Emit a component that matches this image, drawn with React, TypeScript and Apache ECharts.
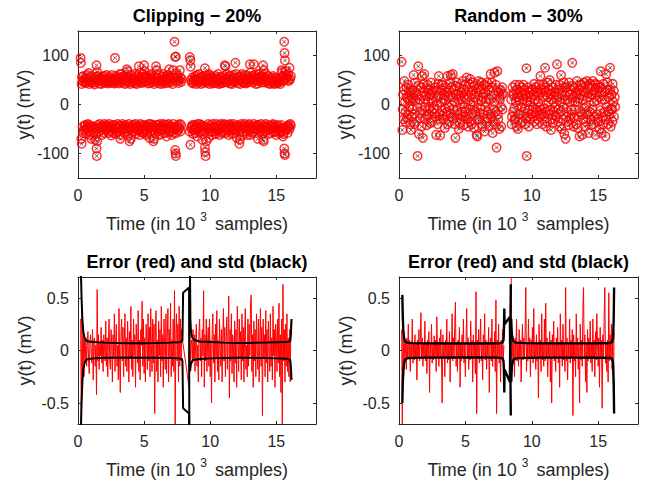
import React, { useEffect, useRef } from "react";
import * as echarts from "echarts";

const FONT = "'Liberation Sans', Arial, Helvetica, sans-serif";
const AXIS_COLOR = "#262626";

const titles = ["Clipping − 20%", "Random − 30%", "Error (red) and std (black)", "Error (red) and std (black)"];
const xTicks = [0, 5, 10, 15];
const yTicksSignal = [-100, 0, 100];
const yTicksError = [-0.5, 0, 0.5];

// Clipping 20% : missing samples (y in mV) [time in 10^3 samples, value]
const clipPos: number[][] = [
  [0.2,95],[0.22,85],[0.3,56],[0.35,48],[0.45,45],[0.5,52],[0.6,44],[0.7,60],[0.75,50],[0.8,64],[0.85,42],[0.95,55],[1.0,47],[1.1,44],[1.2,52],[1.3,45],[1.4,80],[1.45,66],[1.5,58],[1.55,48],[1.6,43],[1.7,55],[1.8,50],[1.9,45],[2.0,58],[2.1,47],[2.2,52],[2.3,43],[2.4,56],[2.5,48],[2.6,44],[2.7,50],[2.8,95],[2.85,58],[2.9,45],[3.0,52],[3.1,43],[3.2,55],[3.3,62],[3.4,47],[3.5,44],[3.6,57],[3.7,72],[3.75,68],[3.8,50],[3.9,45],[4.0,60],[4.1,48],[4.2,53],[4.3,43],[4.4,58],[4.5,46],[4.6,78],[4.65,64],[4.7,52],[4.8,44],[4.9,62],[5.0,80],[5.05,68],[5.1,47],[5.2,55],[5.3,43],[5.4,60],[5.5,50],[5.6,45],[5.7,58],[5.8,48],[5.9,78],[5.95,70],[6.0,55],[6.1,44],[6.2,50],[6.3,46],[6.4,57],[6.5,43],[6.6,52],[6.7,48],[6.8,60],[6.9,72],[7.0,45],[7.1,55],[7.2,70],[7.3,128],[7.35,97],[7.4,98],[7.45,62],[7.5,48],[7.6,44],[7.7,70],[7.75,55],[7.8,46],
  [0.27,42],[0.4,58],[0.55,47],[0.65,53],[0.9,46],[1.05,58],[1.15,50],[1.25,41],[1.35,56],[1.65,50],[1.75,42],[1.85,57],[1.95,52],[2.05,44],[2.15,60],[2.25,48],[2.35,45],[2.45,53],[2.55,60],[2.65,47],[2.75,43],[2.95,55],[3.05,48],[3.15,62],[3.25,45],[3.35,52],[3.45,58],[3.55,42],[3.65,48],[3.85,55],[3.95,42],[4.05,52],[4.15,45],[4.25,62],[4.35,50],[4.45,42],[4.55,55],[4.75,47],[4.85,56],[4.95,45],[5.15,58],[5.25,48],[5.35,52],[5.45,44],[5.55,62],[5.65,52],[5.75,42],[5.85,55],[6.05,48],[6.15,60],[6.25,42],[6.35,50],[6.45,62],[6.55,47],[6.65,58],[6.75,44],[6.85,52],[6.95,58],[7.05,48],[7.15,42],[7.25,55],[7.55,58],[7.65,50],[7.85,52],
  [8.45,97],[8.5,90],[8.52,77],[8.6,45],[8.7,43],[8.8,52],[8.9,48],[9.0,60],[9.1,45],[9.2,55],[9.3,42],[9.4,50],[9.5,58],[9.6,74],[9.65,46],[9.7,52],[9.8,44],[9.9,62],[10.0,48],[10.1,55],[10.2,43],[10.3,50],[10.4,58],[10.5,45],[10.6,62],[10.7,48],[10.8,43],[10.9,55],[11.0,47],[11.1,80],[11.15,78],[11.2,52],[11.3,45],[11.4,58],[11.5,43],[11.6,50],[11.7,46],[11.8,55],[11.9,85],[11.95,62],[12.0,48],[12.1,44],[12.2,56],[12.3,50],[12.4,62],[12.5,45],[12.6,52],[12.7,43],[12.8,58],[12.9,48],[13.0,82],[13.05,65],[13.1,52],[13.2,45],[13.3,82],[13.35,60],[13.4,48],[13.5,55],[13.6,43],[13.7,62],[13.8,50],[13.9,45],[14.0,80],[14.05,70],[14.1,56],[14.2,62],[14.3,47],[14.4,43],[14.5,53],[14.6,48],[14.7,44],[14.8,50],[14.9,45],[15.0,52],[15.1,43],[15.2,48],[15.3,42],[15.4,70],[15.45,66],[15.5,58],[15.55,48],[15.6,128],[15.62,105],[15.65,90],[15.7,68],[15.75,55],[15.8,60],[15.85,50],[15.9,62],[16.0,75],[16.05,52],
  [8.55,50],[8.65,55],[8.75,47],[8.85,58],[8.95,42],[9.05,52],[9.15,62],[9.25,48],[9.35,55],[9.45,44],[9.55,48],[9.75,60],[9.85,50],[9.95,42],[10.05,58],[10.15,46],[10.25,55],[10.35,44],[10.45,52],[10.55,48],[10.65,42],[10.75,56],[10.85,50],[10.95,44],[11.05,58],[11.25,62],[11.35,48],[11.45,52],[11.55,58],[11.65,42],[11.75,60],[11.85,47],[12.05,55],[12.15,50],[12.25,42],[12.35,58],[12.45,48],[12.55,44],[12.65,60],[12.75,50],[12.85,45],[12.95,55],[13.15,58],[13.25,52],[13.45,42],[13.55,62],[13.65,48],[13.75,55],[13.85,58],[13.95,50],[14.15,45],[14.25,52],[14.35,58],[14.45,48],[14.55,42],[14.65,55],[14.75,58],[14.85,42],[14.95,55],[15.05,46],[15.15,52],[15.25,46],[15.35,55],[15.65,52],[15.95,48],[16.1,58]
];
const clipNeg: number[][] = [
  [0.25,-70],[0.28,-80],[0.35,-45],[0.45,-52],[0.55,-42],[0.6,-60],[0.7,-48],[0.75,-40],[0.85,-55],[0.95,-44],[1.0,-70],[1.1,-50],[1.2,-45],[1.3,-72],[1.4,-90],[1.42,-105],[1.45,-75],[1.5,-42],[1.6,-55],[1.7,-45],[1.8,-62],[1.9,-48],[2.0,-40],[2.1,-52],[2.2,-44],[2.3,-58],[2.4,-46],[2.5,-63],[2.6,-42],[2.7,-50],[2.8,-45],[2.9,-56],[3.0,-40],[3.1,-48],[3.2,-70],[3.3,-52],[3.4,-44],[3.5,-58],[3.6,-42],[3.7,-50],[3.8,-45],[3.9,-75],[4.0,-70],[4.1,-55],[4.2,-42],[4.3,-48],[4.4,-60],[4.5,-44],[4.6,-52],[4.7,-40],[4.8,-56],[4.9,-45],[5.0,-50],[5.1,-42],[5.2,-58],[5.3,-48],[5.4,-68],[5.5,-40],[5.6,-52],[5.7,-75],[5.75,-70],[5.8,-46],[5.9,-42],[6.0,-55],[6.1,-48],[6.2,-40],[6.3,-60],[6.4,-45],[6.5,-52],[6.6,-42],[6.7,-65],[6.8,-48],[6.9,-56],[7.0,-44],[7.1,-62],[7.2,-40],[7.3,-50],[7.35,-93],[7.38,-100],[7.4,-105],[7.45,-58],[7.5,-45],[7.6,-52],[7.7,-40],[7.8,-42],
  [0.4,-58],[0.5,-44],[0.65,-50],[0.8,-42],[0.9,-62],[1.05,-45],[1.15,-58],[1.25,-48],[1.35,-60],[1.55,-48],[1.65,-40],[1.75,-52],[1.85,-44],[1.95,-58],[2.05,-46],[2.15,-42],[2.25,-50],[2.35,-40],[2.45,-54],[2.55,-47],[2.65,-58],[2.75,-42],[2.85,-60],[2.95,-48],[3.05,-55],[3.15,-43],[3.25,-62],[3.35,-40],[3.45,-50],[3.55,-46],[3.65,-55],[3.75,-62],[3.85,-40],[3.95,-50],[4.05,-46],[4.15,-42],[4.25,-55],[4.35,-40],[4.45,-52],[4.55,-46],[4.65,-62],[4.75,-48],[4.85,-42],[4.95,-58],[5.05,-44],[5.15,-62],[5.25,-45],[5.35,-40],[5.45,-55],[5.55,-46],[5.65,-42],[5.85,-58],[5.95,-50],[6.05,-42],[6.15,-62],[6.25,-52],[6.35,-44],[6.45,-40],[6.55,-58],[6.65,-48],[6.75,-42],[6.85,-40],[6.95,-50],[7.05,-55],[7.15,-46],[7.25,-58],[7.55,-42],[7.65,-48],[7.75,-55],
  [8.45,-55],[8.5,-82],[8.6,-45],[8.7,-60],[8.8,-42],[8.9,-52],[9.0,-65],[9.1,-48],[9.2,-40],[9.3,-56],[9.4,-72],[9.5,-45],[9.6,-88],[9.62,-97],[9.65,-105],[9.7,-75],[9.8,-50],[9.9,-68],[10.0,-42],[10.1,-55],[10.2,-40],[10.3,-48],[10.4,-60],[10.5,-44],[10.6,-52],[10.7,-62],[10.8,-40],[10.9,-48],[11.0,-56],[11.1,-42],[11.2,-50],[11.3,-45],[11.4,-62],[11.5,-40],[11.6,-52],[11.7,-44],[11.8,-58],[11.9,-48],[12.0,-68],[12.1,-42],[12.2,-80],[12.25,-72],[12.3,-50],[12.4,-44],[12.5,-56],[12.6,-40],[12.7,-48],[12.8,-62],[12.9,-42],[13.0,-52],[13.1,-45],[13.2,-58],[13.3,-40],[13.4,-50],[13.5,-44],[13.6,-70],[13.7,-42],[13.8,-55],[13.9,-48],[14.0,-72],[14.05,-75],[14.1,-45],[14.2,-40],[14.3,-52],[14.4,-60],[14.5,-44],[14.6,-50],[14.7,-42],[14.8,-56],[14.9,-46],[15.0,-62],[15.1,-50],[15.2,-44],[15.3,-55],[15.4,-48],[15.5,-65],[15.55,-60],[15.6,-90],[15.62,-100],[15.65,-103],[15.7,-52],[15.8,-45],[15.9,-42],[16.0,-50],[16.1,-43],
  [8.55,-48],[8.65,-42],[8.75,-52],[8.85,-58],[8.95,-44],[9.05,-40],[9.15,-55],[9.25,-46],[9.35,-42],[9.45,-60],[9.55,-52],[9.75,-46],[9.85,-40],[9.95,-55],[10.05,-48],[10.15,-62],[10.25,-45],[10.35,-55],[10.45,-40],[10.55,-48],[10.65,-42],[10.75,-50],[10.85,-58],[10.95,-44],[11.05,-40],[11.15,-58],[11.25,-44],[11.35,-52],[11.45,-42],[11.55,-46],[11.65,-60],[11.75,-40],[11.85,-52],[11.95,-44],[12.05,-55],[12.15,-46],[12.35,-40],[12.45,-62],[12.55,-48],[12.65,-44],[12.75,-55],[12.85,-46],[12.95,-40],[13.05,-62],[13.15,-48],[13.25,-55],[13.35,-45],[13.45,-58],[13.55,-42],[13.65,-52],[13.75,-48],[13.85,-40],[13.95,-60],[14.15,-55],[14.25,-46],[14.35,-42],[14.45,-50],[14.55,-58],[14.65,-44],[14.75,-40],[14.85,-48],[14.95,-55],[15.05,-42],[15.15,-58],[15.25,-48],[15.35,-42],[15.45,-55],[15.75,-50],[15.85,-58],[15.95,-46],[16.05,-40]
];

// Random 30% : missing samples
const randPts: number[][] = [
  [0.2,87],[0.25,-52],[0.3,20],[0.35,-30],[0.4,48],[0.45,5],[0.5,-15],[0.55,35],[0.6,-28],[0.65,12],[0.7,40],[0.75,-5],[0.8,25],[0.85,-40],[0.9,-52],[0.95,15],[1.0,-10],[1.05,30],[1.1,60],[1.15,-20],[1.2,45],[1.25,8],[1.3,-35],[1.35,20],[1.4,-105],[1.45,78],[1.5,-60],[1.55,10],[1.6,-15],[1.65,35],[1.7,-45],[1.75,58],[1.8,-68],[1.85,25],[1.9,62],[1.95,-5],[2.0,-30],[2.05,18],[2.1,-42],[2.15,40],[2.2,5],[2.25,-20],[2.3,30],[2.35,-38],[2.4,45],[2.45,12],[2.5,-15],[2.55,25],[2.6,-8],[2.7,35],[2.75,-25],[2.8,-62],[2.85,15],[2.9,-40],[2.95,42],[3.0,58],[3.05,-20],[3.1,-63],[3.15,5],[3.2,30],[3.25,-12],[3.3,40],[3.35,-30],[3.4,20],[3.45,-48],[3.5,8],[3.55,35],[3.6,-15],[3.65,58],[3.7,25],[3.75,-5],[3.8,-35],[3.85,45],[3.9,60],[3.95,-25],[4.0,15],[4.05,62],[4.1,-10],[4.15,30],[4.2,-40],[4.25,-68],[4.3,20],[4.35,45],[4.4,-20],[4.45,10],[4.5,-50],[4.55,35],[4.6,0],[4.65,-30],[4.7,25],[4.75,-15],[4.8,48],[4.85,-42],[4.9,15],[4.95,-5],[5.0,40],[5.05,-25],[5.1,55],[5.15,10],[5.2,-45],[5.25,30],[5.3,-10],[5.35,52],[5.4,-35],[5.45,20],[5.5,-20],[5.55,45],[5.6,5],[5.65,-48],[5.7,38],[5.75,-15],[5.8,25],[5.85,-62],[5.9,-65],[5.95,10],[6.0,48],[6.05,-30],[6.1,30],[6.15,-10],[6.2,45],[6.25,-40],[6.3,15],[6.35,-20],[6.4,40],[6.45,-55],[6.5,25],[6.55,5],[6.6,-35],[6.65,45],[6.7,-15],[6.75,30],[6.8,-45],[6.85,10],[6.9,62],[6.95,-25],[7.0,35],[7.05,-58],[7.1,20],[7.15,-10],[7.2,65],[7.25,-40],[7.3,40],[7.35,-88],[7.4,68],[7.45,-20],[7.5,25],[7.55,-50],[7.6,10],[7.65,30],[7.7,-45],[7.75,20],[7.8,-10],[7.85,22],
  [0.28,-10],[0.38,30],[0.48,-35],[0.58,15],[0.68,-20],[0.78,8],[0.88,28],[0.98,-25],[1.08,12],[1.18,-40],[1.28,25],[1.38,-5],[1.48,38],[1.58,-28],[1.68,18],[1.78,-12],[1.88,42],[1.98,10],[2.08,-22],[2.18,32],[2.28,-8],[2.38,20],[2.48,-35],[2.58,5],[2.68,-18],[2.78,28],[2.88,-2],[2.98,18],[3.08,-30],[3.18,40],[3.28,-22],[3.38,12],[3.48,-8],[3.58,25],[3.68,-40],[3.78,15],[3.88,-18],[3.98,35],[4.08,-28],[4.18,5],[4.28,38],[4.38,-12],[4.48,22],[4.58,-38],[4.68,12],[4.78,-25],[4.88,30],[4.98,-15],[5.08,20],[5.18,-30],[5.28,42],[5.38,0],[5.48,-40],[5.58,28],[5.68,-10],[5.78,15],[5.88,-30],[5.98,35],[6.08,-18],[6.18,8],[6.28,-45],[6.38,22],[6.48,-5],[6.58,38],[6.68,-28],[6.78,12],[6.88,-20],[6.98,45],[7.08,-35],[7.18,5],[7.28,-15],[7.38,28],[7.48,-30],[7.58,15],[7.68,-5],[7.78,35],
  [8.45,10],[8.5,-25],[8.55,35],[8.6,-15],[8.65,20],[8.7,-30],[8.75,40],[8.8,5],[8.85,-45],[8.9,30],[8.95,-50],[9.0,15],[9.05,40],[9.1,-20],[9.15,25],[9.2,-5],[9.25,35],[9.3,-35],[9.35,10],[9.4,-15],[9.45,30],[9.5,-40],[9.55,20],[9.6,74],[9.62,-105],[9.65,5],[9.7,-25],[9.75,35],[9.8,-10],[9.85,25],[9.9,-30],[9.95,15],[10.0,-20],[10.05,30],[10.1,-5],[10.15,20],[10.2,-35],[10.25,10],[10.3,35],[10.35,-15],[10.4,25],[10.45,-30],[10.5,5],[10.55,40],[10.6,-20],[10.65,58],[10.7,-10],[10.75,30],[10.8,-40],[10.85,15],[10.9,-25],[10.95,35],[11.0,75],[11.05,-15],[11.1,25],[11.15,-35],[11.2,45],[11.25,5],[11.3,-20],[11.35,50],[11.4,20],[11.45,-52],[11.5,10],[11.55,-30],[11.6,35],[11.65,-15],[11.7,25],[11.75,-5],[11.8,40],[11.85,-25],[11.9,82],[11.95,15],[12.0,-10],[12.05,30],[12.1,-45],[12.15,5],[12.2,60],[12.25,-50],[12.3,20],[12.35,-30],[12.4,45],[12.45,-60],[12.5,10],[12.55,-70],[12.6,35],[12.65,-15],[12.7,25],[12.75,-35],[12.8,45],[12.85,5],[12.9,-30],[12.95,30],[13.0,-20],[13.05,85],[13.1,15],[13.15,-45],[13.2,35],[13.25,-10],[13.3,25],[13.35,-40],[13.4,48],[13.45,5],[13.5,-25],[13.55,30],[13.6,-65],[13.65,20],[13.7,-15],[13.75,40],[13.8,-62],[13.85,10],[13.9,-30],[13.95,45],[14.0,-45],[14.05,25],[14.1,-5],[14.15,48],[14.2,-20],[14.25,35],[14.3,-58],[14.35,15],[14.4,42],[14.45,-30],[14.5,20],[14.55,-10],[14.6,48],[14.65,-40],[14.7,5],[14.75,30],[14.8,-62],[14.85,25],[14.9,-20],[14.95,40],[15.0,-35],[15.05,15],[15.1,-50],[15.15,35],[15.2,68],[15.25,-58],[15.3,10],[15.35,-25],[15.4,42],[15.45,-15],[15.5,25],[15.55,-65],[15.6,62],[15.65,-5],[15.7,30],[15.75,-40],[15.8,15],[15.85,-20],[15.9,75],[15.95,-45],[16.0,20],[16.05,-10],[16.1,42],[16.15,5],[16.2,-25],[16.25,15],
  [8.48,-40],[8.58,22],[8.68,-8],[8.78,-30],[8.88,15],[8.98,-20],[9.08,8],[9.18,-38],[9.28,20],[9.38,40],[9.48,-8],[9.58,-28],[9.68,15],[9.78,-45],[9.88,5],[9.98,30],[10.08,-25],[10.18,42],[10.28,-10],[10.38,-40],[10.48,18],[10.58,-5],[10.68,25],[10.78,-20],[10.88,40],[10.98,-8],[11.08,-45],[11.18,15],[11.28,30],[11.38,-12],[11.48,22],[11.58,-38],[11.68,5],[11.78,-22],[11.88,18],[11.98,-35],[12.08,40],[12.18,-15],[12.28,25],[12.38,-5],[12.48,35],[12.58,-25],[12.68,10],[12.78,-42],[12.88,20],[12.98,-10],[13.08,38],[13.18,-28],[13.28,5],[13.38,22],[13.48,-48],[13.58,12],[13.68,40],[13.78,-20],[13.88,28],[13.98,-8],[14.08,-35],[14.18,15],[14.28,38],[14.38,-15],[14.48,-42],[14.58,20],[14.68,-25],[14.78,42],[14.88,8],[14.98,-30],[15.08,35],[15.18,-12],[15.28,25],[15.38,-40],[15.48,10],[15.58,-30],[15.68,45],[15.78,-15],[15.88,30],[15.98,-8],[16.08,-35],[16.18,28],[16.28,-5]
];

// Reconstruction error (mV), sampled every 0.05 x 10^3 samples
const errStep = 0.05;
const clipErrStart1 = 0.2;
const clipErr1 = [
  0.3,-0.7,0.42,-0.2,0.15,-0.25,0.1,-0.08,0.12,-0.15,
  0.05,0.18,-0.1,-0.22,0.08,0.15,-0.05,-0.12,0.2,-0.28,
  0.1,0.12,-0.15,0.05,-0.42,0.58,-0.1,0.15,-0.18,0.08,
  -0.05,0.22,-0.12,0.1,-0.2,0.15,0.05,-0.1,0.28,-0.15,
  0.12,-0.25,0.08,0.3,-0.1,-0.18,0.2,0.05,-0.3,0.15,
  -0.08,0.35,-0.2,0.1,0.25,-0.15,0.05,-0.28,0.4,-0.12,
  -0.4,0.15,0.3,-0.1,0.22,-0.25,0.08,0.35,-0.15,0.12,
  -0.2,0.28,0.05,-0.3,0.18,-0.08,0.42,-0.18,0.1,-0.25,
  0.3,-0.05,0.15,-0.35,0.25,0.08,-0.12,0.38,-0.2,0.1,
  -0.28,0.2,0.05,0.47,-0.15,0.3,-0.22,0.12,-0.3,0.25,
  0.08,-0.18,0.35,-0.1,0.22,-0.25,0.4,0.05,-0.2,0.3,
  -0.12,0.25,-0.6,0.15,0.38,-0.2,0.1,-0.3,0.28,-0.05,
  0.2,-0.25,0.42,-0.1,0.15,-0.35,0.3,0.05,-0.18,0.35,
  -0.22,0.12,0.4,-0.3,0.2,-0.08,0.45,-0.25,0.1,-0.15,
  0.3,-0.2,0.57,-0.7,0.15,0.35,-0.1,0.25,-0.3,0.42,
  -0.15,0.3,-0.1,0.2,0.1
];
const clipErrStart2 = 8.4;
const clipErr2 = [
  -0.35,0.75,-0.15,0.05,0.1,-0.12,0.2,-0.08,0.15,-0.2,
  0.1,0.25,-0.15,0.05,-0.3,0.18,0.3,-0.1,0.12,-0.25,
  0.2,-0.05,0.57,-0.35,0.15,-0.1,0.3,-0.2,0.08,0.22,
  -0.15,0.3,-0.25,0.1,-0.5,0.2,0.35,-0.12,0.15,-0.3,
  0.25,-0.08,0.38,-0.2,0.1,-0.28,0.3,0.05,-0.15,0.2,
  -0.3,0.15,0.4,-0.1,0.22,-0.25,0.08,0.32,-0.18,0.12,
  0.52,-0.45,0.2,-0.1,0.35,-0.22,0.15,0.05,-0.3,0.28,
  -0.12,0.2,-0.35,0.42,0.1,-0.2,0.3,-0.08,0.18,-0.28,
  0.35,-0.1,0.22,-0.3,0.12,0.4,-0.18,0.05,-0.25,0.3,
  -0.15,0.25,-0.05,0.45,0.53,-0.2,0.15,-0.35,0.28,-0.1,
  0.2,-0.25,0.35,0.05,-0.18,0.3,-0.3,0.12,0.4,-0.15,
  0.22,-0.62,0.3,-0.08,0.15,-0.25,0.38,-0.12,0.2,-0.3,
  0.28,0.05,-0.2,0.35,-0.15,0.12,-0.28,0.42,-0.05,0.2,
  -0.35,0.25,0.1,-0.2,0.3,-0.12,0.45,-0.25,0.15,-0.4,
  0.3,-0.7,0.63,-0.1,0.2,-0.3,0.25,-0.15,0.35,-0.2,
  0.12,-0.25,0.2,-0.3,0.28
];
const randErrStart1 = 0.2;
const randErr1 = [
  0.2,-0.7,0.35,-0.25,0.15,-0.1,0.08,-0.18,0.12,-0.07,
  0.25,-0.08,0.1,-0.2,0.07,-0.06,0.3,-0.12,0.06,-0.09,
  0.15,-0.07,0.08,-0.28,0.1,-0.06,0.2,-0.1,0.07,0.36,
  -0.08,0.12,-0.15,0.06,-0.07,0.28,-0.1,0.08,-0.22,0.1,
  -0.06,0.18,-0.4,0.07,-0.08,0.25,-0.12,0.06,-0.09,0.14,
  -0.07,0.1,-0.2,0.32,-0.06,0.08,-0.15,0.12,-0.08,0.2,
  -0.1,-0.5,0.15,-0.07,0.08,-0.25,0.1,-0.06,0.3,-0.12,
  0.07,-0.09,0.18,-0.3,0.06,-0.08,0.35,-0.1,0.12,-0.07,
  0.25,0.46,-0.15,0.08,-0.2,0.1,-0.06,0.22,-0.35,0.07,
  -0.1,0.15,-0.07,0.3,-0.12,0.06,-0.25,0.1,0.4,-0.08,
  0.12,-0.18,0.07,-0.09,0.28,-0.06,0.1,-0.3,0.15,-0.07,
  0.08,-0.22,0.56,-0.6,0.1,-0.08,0.2,-0.12,0.07,0.3,
  -0.1,0.06,-0.28,0.15,-0.07,0.35,-0.09,0.1,-0.18,0.08,
  -0.06,0.22,-0.4,0.07,0.12,-0.1,0.3,-0.15,0.08,-0.07,
  0.18,-0.2,0.48,-0.6,0.1,-0.08,0.25,-0.12,0.06,-0.3,
  0.1,-0.07,0.2,-0.1,0.05
];
const randErrStart2 = 8.45;
const randErr2 = [
  0.7,-0.2,0.15,-0.1,0.08,-0.25,0.12,-0.07,0.3,-0.1,
  0.07,-0.15,0.2,-0.08,0.1,-0.3,0.06,0.25,-0.09,0.12,
  -0.07,0.18,0.6,-0.2,0.08,-0.1,0.3,-0.06,0.12,-0.25,
  0.1,-0.08,0.22,-0.12,0.4,-0.07,0.08,-0.18,0.15,-0.1,
  0.06,-0.45,0.25,-0.07,0.1,-0.2,0.35,-0.09,0.07,-0.15,
  0.3,-0.1,0.45,-0.08,0.12,-0.25,0.06,-0.07,0.18,-0.3,
  0.1,-0.5,0.15,-0.06,0.28,-0.1,0.07,-0.2,0.12,-0.08,
  0.22,-0.12,0.08,-0.35,0.35,-0.07,0.1,-0.15,0.25,-0.09,
  0.06,-0.2,0.6,-0.1,0.12,-0.28,0.07,-0.08,0.3,-0.12,
  0.1,-0.07,0.2,-0.62,0.15,-0.1,0.08,-0.25,0.35,-0.06,
  0.12,-0.18,0.07,-0.5,0.25,-0.09,0.1,-0.15,0.4,0.6,
  -0.08,0.15,-0.3,0.07,-0.4,0.2,-0.1,0.12,-0.07,0.28,
  -0.12,0.08,-0.2,0.3,-0.06,0.1,-0.25,0.18,-0.09,0.35,
  0.07,-0.15,0.12,-0.35,0.22,-0.08,0.1,-0.55,0.15,-0.07,
  0.3,0.6,-0.12,0.08,-0.2,0.1,-0.3,0.55,-0.1,0.15,
  -0.07,0.25,-0.18,0.1,-0.4,0.2
];

// Posterior std envelopes [time, mV]
const clipStdUp1: number[][] = [[0.22,0.75],[0.27,0.5],[0.33,0.3],[0.4,0.18],[0.5,0.12],[0.6,0.095],[0.8,0.085],[1.2,0.08],[2,0.075],[3,0.072],[4,0.07],[5,0.07],[6,0.072],[7,0.075],[7.6,0.078],[7.85,0.085],[7.9,0.1],[7.95,0.55],[8.4,0.6],[8.42,-0.8]];
const clipStdLo1: number[][] = [[0.22,-0.75],[0.27,-0.5],[0.33,-0.3],[0.4,-0.18],[0.5,-0.12],[0.6,-0.09],[0.8,-0.08],[1.2,-0.075],[2,-0.07],[3,-0.068],[4,-0.067],[5,-0.068],[6,-0.07],[7,-0.072],[7.6,-0.075],[7.85,-0.08],[7.9,-0.1],[7.95,-0.55],[8.4,-0.6],[8.42,-0.8]];
const clipStdUp2: number[][] = [[8.47,0.75],[8.5,0.3],[8.55,0.17],[8.65,0.12],[8.8,0.1],[9.2,0.085],[10,0.08],[11,0.075],[12,0.072],[13,0.072],[14,0.075],[15,0.078],[15.8,0.08],[16.05,0.09],[16.1,0.15],[16.15,0.3]];
const clipStdLo2: number[][] = [[8.47,-0.2],[8.55,-0.12],[8.7,-0.09],[9.2,-0.08],[10,-0.075],[11,-0.072],[12,-0.07],[13,-0.07],[14,-0.072],[15,-0.075],[15.8,-0.078],[16.05,-0.09],[16.1,-0.15],[16.15,-0.28]];
const randStdUp1: number[][] = [[0.25,0.53],[0.28,0.35],[0.32,0.2],[0.38,0.12],[0.45,0.09],[0.6,0.075],[1,0.07],[2,0.068],[4,0.066],[6,0.066],[7.5,0.068],[7.8,0.075],[7.87,0.1],[7.9,0.18],[7.93,0.4],[7.95,0.25],[8.35,0.32],[8.42,-0.62]];
const randStdLo1: number[][] = [[0.25,-0.5],[0.28,-0.33],[0.32,-0.2],[0.38,-0.12],[0.45,-0.09],[0.6,-0.075],[1,-0.07],[2,-0.068],[4,-0.066],[6,-0.066],[7.5,-0.068],[7.8,-0.075],[7.87,-0.1],[7.9,-0.18],[7.93,-0.4],[7.95,-0.18],[8.35,-0.3],[8.42,0.63]];
const randStdUp2: number[][] = [[8.45,0.3],[8.5,0.15],[8.6,0.09],[8.8,0.075],[9.5,0.07],[11,0.068],[13,0.068],[15,0.069],[15.9,0.072],[16.05,0.08],[16.12,0.12],[16.17,0.3],[16.2,0.6]];
const randStdLo2: number[][] = [[8.45,-0.3],[8.5,-0.15],[8.6,-0.09],[8.8,-0.075],[9.5,-0.07],[11,-0.068],[13,-0.068],[15,-0.069],[15.9,-0.072],[16.05,-0.08],[16.12,-0.12],[16.17,-0.3],[16.2,-0.6]];

const GRIDS = [
  { left: 78, top: 31, width: 238, height: 147 },
  { left: 399, top: 31, width: 239, height: 147 },
  { left: 78, top: 277, width: 238, height: 147 },
  { left: 399, top: 277, width: 239, height: 147 },
];

const X_CROSS = "path://M1,0L5,4L9,0L10,1L6,5L10,9L9,10L5,6L1,10L0,9L4,5L0,1Z";

function sampled(start: number, values: number[]): number[][] {
  return values.map((v, i) => [+(start + i * errStep).toFixed(3), v]);
}

function buildOption() {
  const xAxis: any[] = [];
  const yAxis: any[] = [];
  GRIDS.forEach((_, g) => {
    const isSignal = g < 2;
    const yTicks = isSignal ? yTicksSignal : yTicksError;
    const yLim = isSignal ? 150 : 0.7;
    const common = {
      type: "value",
      gridIndex: g,
      splitLine: { show: false },
      axisLine: { show: true, onZero: false, lineStyle: { color: AXIS_COLOR, width: 1 } },
    };
    xAxis.push({
      ...common,
      position: "bottom",
      min: 0,
      max: 18,
      axisTick: { show: true, inside: true, length: 3, customValues: xTicks, lineStyle: { color: AXIS_COLOR } },
      axisLabel: { show: true, customValues: xTicks, color: AXIS_COLOR, fontSize: 16, fontFamily: FONT, margin: 9 },
      name: "{a|Time (in 10}{s|3}{a| samples)}",
      nameLocation: "middle",
      nameGap: 33,
      nameTextStyle: {
        color: AXIS_COLOR,
        fontFamily: FONT,
        fontSize: 18,
        rich: {
          a: { fontSize: 18, fontFamily: FONT, color: AXIS_COLOR },
          s: { fontSize: 12, fontFamily: FONT, color: AXIS_COLOR, padding: [0, 3, 13, 5] },
        },
      },
    });
    xAxis.push({
      ...common,
      position: "top",
      min: 0,
      max: 18,
      axisTick: { show: true, inside: true, length: 3, customValues: xTicks, lineStyle: { color: AXIS_COLOR } },
      axisLabel: { show: false },
    });
    yAxis.push({
      ...common,
      position: "left",
      min: -yLim,
      max: yLim,
      axisTick: { show: true, inside: true, length: 3, customValues: yTicks, lineStyle: { color: AXIS_COLOR } },
      axisLabel: { show: true, customValues: yTicks, color: AXIS_COLOR, fontSize: 16, fontFamily: FONT, margin: 9 },
      name: "y(t) (mV)",
      nameLocation: "middle",
      nameGap: 44,
      nameRotate: 90,
      nameTextStyle: { color: AXIS_COLOR, fontFamily: FONT, fontSize: 18 },
    });
    yAxis.push({
      ...common,
      position: "right",
      min: -yLim,
      max: yLim,
      axisTick: { show: true, inside: true, length: 3, customValues: yTicks, lineStyle: { color: AXIS_COLOR } },
      axisLabel: { show: false },
    });
  });

  const circleSeries = (g: number, data: number[][]) => ({
    type: "scatter",
    xAxisIndex: 2 * g,
    yAxisIndex: 2 * g,
    data,
    symbol: "circle",
    symbolSize: 8.5,
    itemStyle: { color: "rgba(255,0,0,0)", borderColor: "#ff0000", borderWidth: 1.5 },
    silent: true,
    z: 3,
  });
  const crossSeries = (g: number, data: number[][]) => ({
    type: "scatter",
    xAxisIndex: 2 * g,
    yAxisIndex: 2 * g,
    data,
    symbol: X_CROSS,
    symbolSize: 4,
    itemStyle: { color: "#000000" },
    silent: true,
    z: 2,
  });
  const lineSeries = (g: number, data: number[][], color: string, width: number, z: number) => ({
    type: "line",
    xAxisIndex: 2 * g,
    yAxisIndex: 2 * g,
    data,
    showSymbol: false,
    symbol: "none",
    clip: true,
    lineStyle: { color, width },
    silent: true,
    z,
  });

  const series: any[] = [
    crossSeries(0, clipPos),
    crossSeries(0, clipNeg),
    circleSeries(0, clipPos),
    circleSeries(0, clipNeg),
    crossSeries(1, randPts),
    circleSeries(1, randPts),
    lineSeries(2, [...sampled(clipErrStart1, clipErr1), ...sampled(clipErrStart2, clipErr2)], "#ff0000", 1, 2),
    lineSeries(2, clipStdUp1, "#000000", 2, 3),
    lineSeries(2, clipStdLo1, "#000000", 2, 3),
    lineSeries(2, clipStdUp2, "#000000", 2, 3),
    lineSeries(2, clipStdLo2, "#000000", 2, 3),
    lineSeries(3, sampled(randErrStart1, randErr1), "#ff0000", 1, 2),
    lineSeries(3, sampled(randErrStart2, randErr2), "#ff0000", 1, 2),
    lineSeries(3, randStdUp1, "#000000", 2.4, 3),
    lineSeries(3, randStdLo1, "#000000", 2.4, 3),
    lineSeries(3, randStdUp2, "#000000", 2.4, 3),
    lineSeries(3, randStdLo2, "#000000", 2.4, 3),
  ];

  const graphic = GRIDS.map((gr, i) => ({
    type: "text",
    x: gr.left + gr.width / 2,
    y: gr.top - 15,
    silent: true,
    style: {
      text: titles[i],
      textAlign: "center",
      textVerticalAlign: "middle",
      fontFamily: FONT,
      fontSize: 18,
      fontWeight: "bold",
      fill: "#000000",
    },
  }));

  return {
    animation: false,
    backgroundColor: "#ffffff",
    grid: GRIDS.map((g) => ({ ...g, containLabel: false })),
    xAxis,
    yAxis,
    series,
    graphic,
  };
}

export default function App() {
  const ref = useRef<HTMLDivElement>(null);
  useEffect(() => {
    if (!ref.current) return;
    const chart = echarts.init(ref.current, undefined, { renderer: "svg" });
    chart.setOption(buildOption() as any);
    return () => chart.dispose();
  }, []);
  return (
    <div
      ref={ref}
      style={{ position: "absolute", left: 0, top: 0, width: 652, height: 485, background: "#fff" }}
    />
  );
}
